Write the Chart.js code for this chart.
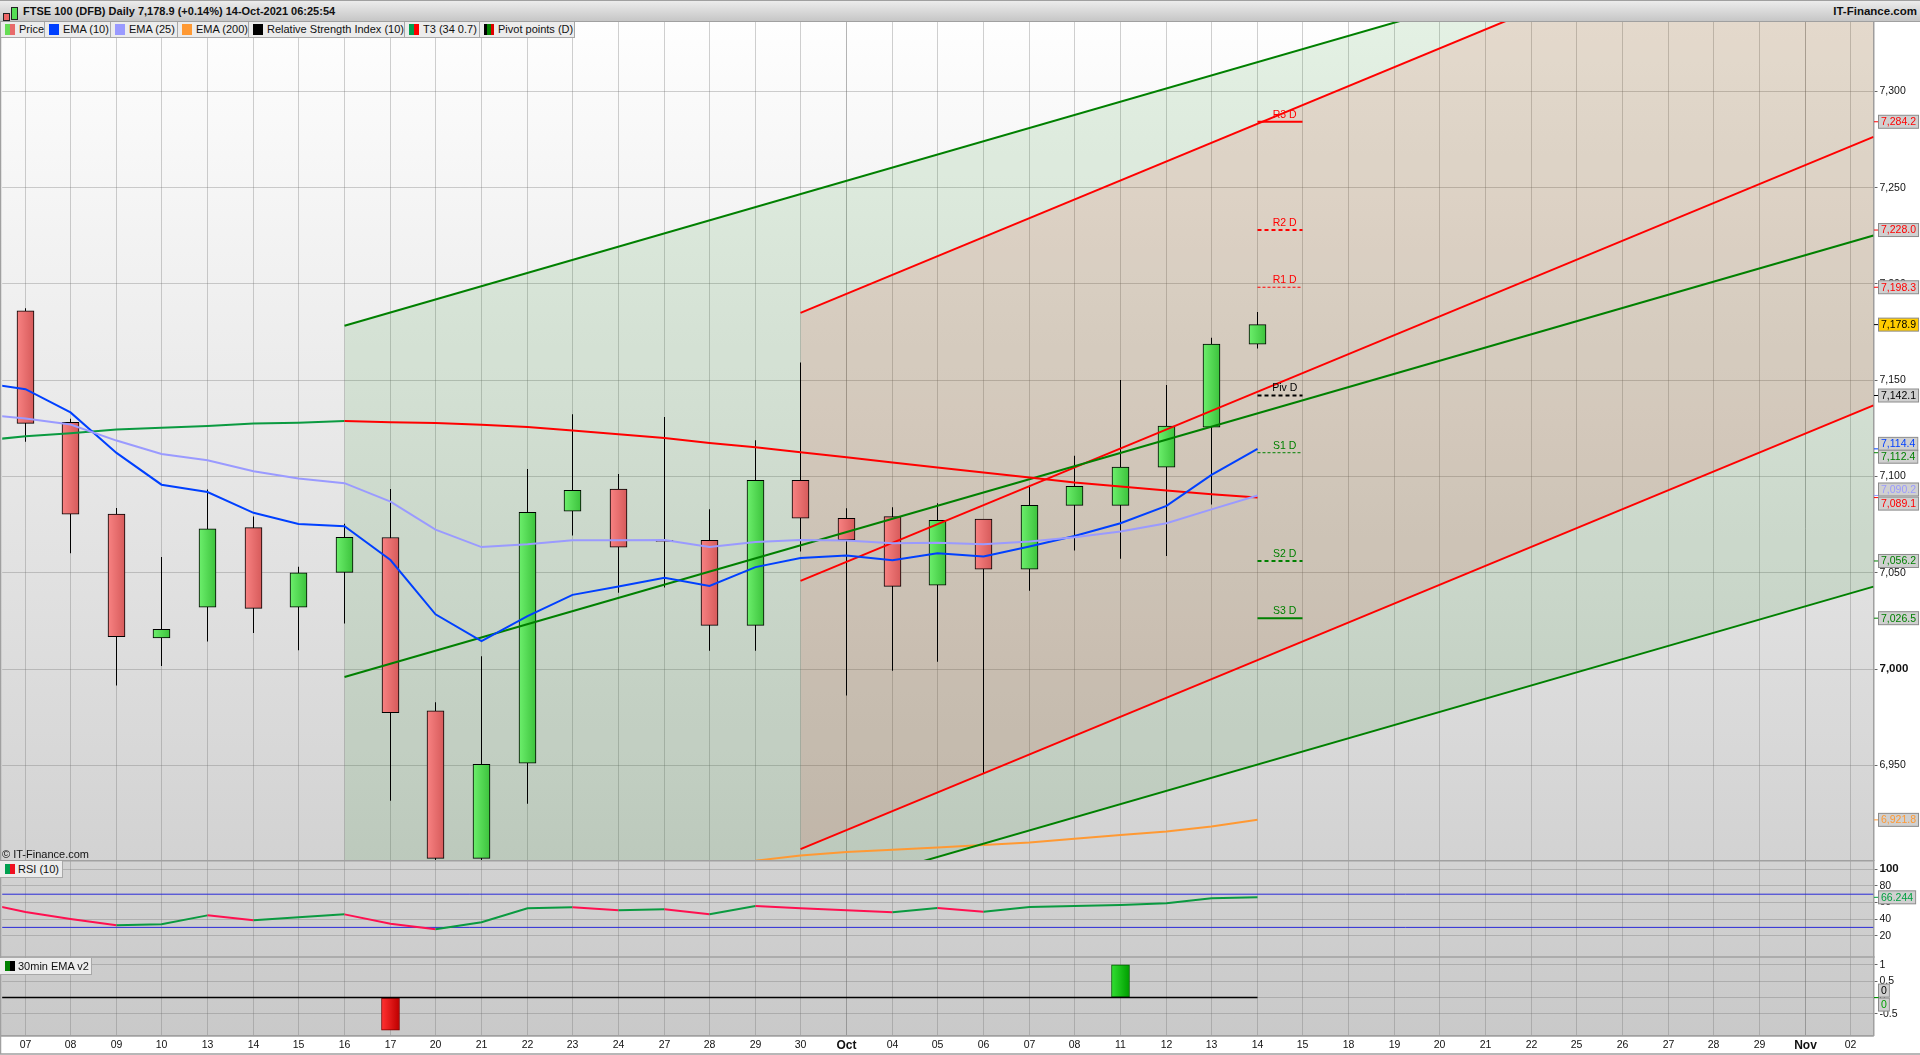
<!DOCTYPE html>
<html>
<head>
<meta charset="utf-8">
<title>FTSE 100 (DFB) Daily</title>
<script src="https://cdn.jsdelivr.net/npm/chart.js@4/dist/chart.umd.min.js"></script>
<style>
    html, body { margin: 0; padding: 0; background: #fff; }
    body { position: relative; width: 1920px; height: 1055px; overflow: hidden; font-family: "Liberation Sans", Arial, sans-serif; color: #111; }
    canvas { position: absolute; left: 0; top: 0; }
    .titlebar { position: absolute; left: 0; top: 0; width: 1920px; height: 20px; border-top: 1px solid #a0a0a0; border-bottom: 1px solid #a0a0a0; background: linear-gradient(#ececec, #c6c6c6); font-weight: bold; font-size: 11px; line-height: 20px; }
    .titlebar .name { position: absolute; left: 23px; }
    .titlebar .site { position: absolute; right: 3px; font-size: 11.5px; }
    .icon { position: absolute; border: 1px solid #222; }
    .tab { position: absolute; top: 22px; height: 15px; background: #ececec; border-right: 1px solid #a8a8a8; border-bottom: 1px solid #a8a8a8; font-size: 11px; line-height: 15px; white-space: nowrap; }
    .tab i { position: absolute; left: 4px; top: 2px; width: 10px; height: 11px; }
    .tab span { position: absolute; left: 18px; }
    .sub { position: absolute; left: 0; height: 16px; background: #ececec; border-right: 1px solid #a8a8a8; border-bottom: 1px solid #a8a8a8; font-size: 11px; line-height: 16px; white-space: nowrap; }
    .sub i { position: absolute; left: 5px; top: 3px; width: 10px; height: 10px; }
    .sub span { position: absolute; left: 18px; }
    .copy { position: absolute; left: 2px; top: 848px; font-size: 11px; line-height: 12px; }
</style>
</head>
<body>
<canvas id="chart" width="1920" height="1055"></canvas>

<div class="titlebar">
    <div class="icon" style="left:3px;top:12px;width:5px;height:6px;background:#e66"></div>
    <div class="icon" style="left:11px;top:6px;width:5px;height:11px;background:#5d5"></div>
    <div class="name">FTSE 100 (DFB) Daily 7,178.9 (+0.14%) 14-Oct-2021 06:25:54</div>
    <div class="site">IT-Finance.com</div>
</div>

<div id="tabs"></div>
<div class="sub" style="top:861px;width:62px"><i style="background:linear-gradient(90deg,#00a050 50%,#f01020 50%)"></i><span>RSI (10)</span></div>
<div class="sub" style="top:958px;width:91px"><i style="background:linear-gradient(90deg,#008000 50%,#000 50%)"></i><span>30min EMA v2</span></div>
<div class="copy">© IT-Finance.com</div>

<script>
'use strict';

const categories = ['07', '08', '09', '10', '13', '14', '15', '16', '17', '20', '21', '22', '23', '24', '27', '28', '29', '30', 'Oct', '04', '05', '06', '07', '08', '11', '12', '13', '14', '15', '18', '19', '20', '21', '22', '25', '26', '27', '28', '29', 'Nov', '02'];

const openValues = [7186.1, 7128.2, 7080.5, 7016.3, 7032.2, 7073.5, 7032.2, 7050.3, 7068.4, 6978.4, 6901.8, 6951.2, 7082.0, 7093.5, 7066.9, 7066.9, 7022.8, 7098.1, 7078.4, 7079.2, 7043.6, 7077.9, 7051.9, 7085.1, 7085.1, 7104.9, 7125.6, 7168.8];
const highValues = [7187.4, 7130.0, 7083.7, 7058.3, 7093.3, 7079.3, 7053.2, 7075.5, 7093.5, 6982.9, 7006.8, 7104.0, 7132.4, 7101.3, 7131.0, 7083.0, 7118.9, 7159.2, 7083.6, 7084.1, 7086.2, 7077.9, 7095.5, 7110.8, 7150.2, 7147.6, 7172.1, 7185.4];
const lowValues = [7118.1, 7060.2, 6991.5, 7001.7, 7014.4, 7018.8, 7009.9, 7023.7, 6931.7, 6900.9, 6900.9, 6930.2, 7069.4, 7039.7, 7042.4, 7009.6, 7009.6, 7061.1, 6986.3, 6999.2, 7003.9, 6945.9, 7040.8, 7061.6, 7057.4, 7058.8, 7085.5, 7166.5];
const closeValues = [7127.6, 7080.5, 7016.9, 7020.7, 7072.9, 7031.6, 7050.0, 7068.5, 6977.5, 6901.8, 6950.6, 7081.4, 7092.9, 7063.4, 7066.4, 7022.8, 7098.1, 7078.4, 7067.1, 7043.0, 7077.3, 7051.9, 7085.1, 7095.0, 7104.9, 7126.2, 7168.8, 7178.9];

// x position of each line point, -0.55 is the left frame of the plot
const lineX = [-0.55, 0, 1, 2, 3, 4, 5, 6, 7, 8, 9, 10, 11, 12, 13, 14, 15, 16, 17, 18, 19, 20, 21, 22, 23, 24, 25, 26, 27];
const ema10Values = [7147.3, 7145.4, 7133.3, 7112.3, 7095.8, 7092.0, 7081.2, 7075.4, 7074.2, 7056.7, 7028.5, 7014.6, 7027.6, 7038.6, 7043.0, 7047.5, 7043.2, 7053.0, 7057.7, 7059.1, 7056.6, 7060.2, 7058.5, 7063.7, 7069.2, 7075.8, 7084.8, 7100.9, 7114.4];
const ema25Values = [7131.4, 7130.2, 7127.0, 7118.7, 7111.7, 7108.5, 7102.8, 7099.0, 7096.6, 7087.0, 7072.5, 7063.4, 7064.9, 7066.9, 7066.9, 7067.1, 7063.4, 7066.0, 7067.1, 7066.8, 7065.4, 7065.7, 7064.9, 7066.3, 7068.5, 7071.5, 7075.8, 7083.0, 7090.2];
const t3Values = [7119.6, 7121.0, 7122.5, 7124.4, 7125.4, 7126.3, 7127.6, 7128.0, 7128.8, 7128.2, 7127.8, 7126.9, 7125.8, 7123.9, 7122.0, 7120.0, 7117.4, 7115.2, 7112.6, 7110.0, 7107.3, 7104.7, 7102.1, 7099.5, 7096.9, 7094.8, 7092.8, 7090.9, 7089.1];
const rsiValues = [55.0, 48.6, 40.1, 32.5, 33.7, 44.5, 38.5, 42.1, 45.7, 34.5, 27.7, 36.1, 53.0, 54.2, 50.6, 51.8, 45.8, 55.8, 53.0, 50.6, 48.2, 53.4, 48.9, 54.6, 55.8, 57.0, 59.0, 65.0, 66.244];

const ema200X = [16, 17, 18, 19, 20, 21, 22, 23, 24, 25, 26, 27];
const ema200Values = [6900.6, 6903.3, 6905.1, 6906.3, 6907.4, 6908.8, 6910.0, 6912.0, 6913.9, 6915.8, 6918.3, 6921.8];

// regression channels, start and end of each line
const greenChannelX = [7, 40.5];
const greenUpper = [7178.3, 7407.5];
const greenMiddle = [6996.0, 7225.2];
const greenLower = [6813.6, 7042.9];
// lower green line held on the panel floor, only used to bound the fill
const greenFloorX = [7, 19.7, 40.5];
const greenFloor = [6900.6, 6900.6, 7042.9];
const redChannelX = [17, 40.5];
const redUpper = [7185.0, 7415.5];
const redMiddle = [7045.9, 7276.4];
const redLower = [6906.6, 7137.0];

const pivotNames = ['R3 D', 'R2 D', 'R1 D', 'Piv D', 'S1 D', 'S2 D', 'S3 D'];
const pivotValues = [7284.2, 7228.0, 7198.3, 7142.1, 7112.4, 7056.2, 7026.5];
const pivotColors = ['#ff0000', '#ff0000', '#ff0000', '#000000', '#008000', '#008000', '#008000'];
const pivotWidths = [2, 2, 1, 2, 1, 2, 2];
const pivotDashes = [[], [4, 3], [3, 2], [4, 3], [3, 2], [4, 3], []];
const pivotX = [27, 28];

const rsiBands = [70, 30];
const frameX = [-0.55, 40.5];
const emaSignalX = [-0.55, 27];
const emaSignalZero = [0, 0];
const emaBars = [null, null, null, null, null, null, null, null, -1, null, null, null, null, null, null, null, null, null, null, null, null, null, null, null, 1, null, null, null];

const priceTags = [7284.2, 7228.0, 7198.3, 7178.9, 7142.1, 7114.4, 7112.4, 7090.2, 7089.1, 7056.2, 7026.5, 6921.8];
const priceTagColors = ['#ff0000', '#ff0000', '#ff0000', '#000000', '#000000', '#0040ff', '#008000', '#9a9aff', '#ff0000', '#008000', '#008000', '#ff9933'];
const priceTagShifts = [0, 0, 0, 0, 0, -5, 4, -6, 6, 0, 0, 0];

const tabNames = ['Price', 'EMA (10)', 'EMA (25)', 'EMA (200)', 'Relative Strength Index (10)', 'T3 (34 0.7)', 'Pivot points (D)'];
const tabEdges = [1, 45, 111, 178, 249, 405, 480, 575];
const tabSwatches = [
    'linear-gradient(90deg,#66dd55 50%,#e86a6a 50%)', '#0040ff', '#9a9aff', '#ff9933', '#000',
    'linear-gradient(90deg,#00a050 50%,#ff0000 50%)', 'linear-gradient(90deg,#000 33%,#008000 33%,#008000 66%,#e00000 66%)',
];

const FONT = '"Liberation Sans", Arial, sans-serif';
const GRID = 'rgba(110,110,110,0.32)';
const FRAME = '#a0a0a0';
const CANDLE_WIDTH = 17;

tabNames.forEach((name, i) => {
    const tab = document.createElement('div');
    tab.className = 'tab';
    tab.style.left = tabEdges[i] + 'px';
    tab.style.width = (tabEdges[i + 1] - tabEdges[i] - 1) + 'px';
    tab.innerHTML = `<i style="background:${tabSwatches[i]}"></i><span>${name}</span>`;
    document.getElementById('tabs').appendChild(tab);
});

function points(xs, ys) {
    return xs.map((x, i) => ({ x, y: ys[i] }));
}

function line(label, yAxisID, data, color, extra = {}) {
    return { type: 'line', label, yAxisID, data, borderColor: color, backgroundColor: color, borderWidth: 2, pointRadius: 0, tension: 0, fill: false, order: 2, ...extra };
}

function fillBand(label, data, target, color) {
    return line(label, 'price', data, 'rgba(0,0,0,0)', { borderWidth: 0, order: 10, fill: target === null ? false : { target }, backgroundColor: color });
}

function barGradient(ctx, light, dark) {
    const { chart, dataIndex } = ctx;
    const x = chart.scales.x.getPixelForValue(dataIndex);
    if (!Number.isFinite(x)) {
        return light;
    }
    const gradient = chart.ctx.createLinearGradient(x - CANDLE_WIDTH / 2, 0, x + CANDLE_WIDTH / 2, 0);
    gradient.addColorStop(0, light);
    gradient.addColorStop(1, dark);
    return gradient;
}

function riseFall(rise, fall) {
    return { borderColor: (ctx) => (ctx.p1.parsed.y >= ctx.p0.parsed.y ? rise : fall) };
}

const datasets = [
    // channel fills, red drawn on top of green
    fillBand('green top', points(greenChannelX, greenUpper), 1, 'rgba(0,128,0,0.1)'),
    fillBand('green floor', points(greenFloorX, greenFloor), null, 'transparent'),
    fillBand('red top', points(redChannelX, redUpper), 3, 'rgba(255,0,0,0.1)'),
    fillBand('red floor', points(redChannelX, redLower), null, 'transparent'),

    {
        type: 'bar', label: 'Wick', yAxisID: 'price', grouped: false, order: 5, barThickness: 1, inflateAmount: 0, backgroundColor: '#000', borderWidth: 0,
        data: highValues.map((high, i) => ({ x: i, y: [lowValues[i], high] })),
    },
    {
        type: 'bar', label: 'Price', yAxisID: 'price', grouped: false, order: 4, barThickness: CANDLE_WIDTH, borderColor: '#000', borderWidth: 1, borderSkipped: false,
        data: openValues.map((open, i) => ({ x: i, y: [open, closeValues[i]] })),
        backgroundColor: (ctx) => {
            const i = ctx.dataIndex;
            return closeValues[i] >= openValues[i] ? barGradient(ctx, '#6cef6c', '#3cc23c') : barGradient(ctx, '#f88282', '#d65a5a');
        },
    },

    line('T3 upper', 'price', points(greenChannelX, greenUpper), '#008000'),
    line('T3 middle', 'price', points(greenChannelX, greenMiddle), '#008000'),
    line('T3 lower', 'price', points(greenChannelX, greenLower), '#008000'),
    line('Red upper', 'price', points(redChannelX, redUpper), '#ff0000'),
    line('Red middle', 'price', points(redChannelX, redMiddle), '#ff0000'),
    line('Red lower', 'price', points(redChannelX, redLower), '#ff0000'),

    line('EMA (200)', 'price', points(ema200X, ema200Values), '#ff9933'),
    line('EMA (25)', 'price', points(lineX, ema25Values), '#9a9aff', { order: 1 }),
    line('EMA (10)', 'price', points(lineX, ema10Values), '#0040ff', { order: 1 }),
    line('T3 (34 0.7)', 'price', points(lineX, t3Values), '#ff0000', { order: 1, segment: riseFall('#0a9a40', '#ff0000') }),

    ...pivotNames.map((name, i) => line(name, 'price', points(pivotX, [pivotValues[i], pivotValues[i]]), pivotColors[i], {
        borderWidth: pivotWidths[i], borderDash: pivotDashes[i], order: 1,
    })),

    line('RSI', 'rsi', points(lineX, rsiValues), '#0a9a40', { segment: riseFall('#0a9a40', '#ff1050') }),
    ...rsiBands.map((level) => line('RSI band', 'rsi', points(frameX, [level, level]), '#2a2ad8', { borderWidth: 1 })),

    line('30min EMA v2 zero', 'ema', points(emaSignalX, emaSignalZero), '#000', { borderWidth: 1.5, order: 1 }),
    {
        type: 'bar', label: '30min EMA v2', yAxisID: 'ema', grouped: false, order: 3, barThickness: 18, borderWidth: 1, borderSkipped: false,
        data: emaBars.map((value, i) => ({ x: i, y: value })),
        borderColor: (ctx) => (emaBars[ctx.dataIndex] > 0 ? '#006000' : '#800000'),
        backgroundColor: (ctx) => (emaBars[ctx.dataIndex] > 0 ? barGradient(ctx, '#30dd30', '#00a000') : barGradient(ctx, '#ff3030', '#c00000')),
    },
];

const panelPlugin = {
    id: 'panelBackground',
    beforeDraw(chart) {
        const { ctx, chartArea: { right, top, bottom } } = chart;
        const gradient = ctx.createLinearGradient(0, top, 0, bottom);
        gradient.addColorStop(0, '#fefefe');
        gradient.addColorStop(1, '#c9c9c9');
        ctx.fillStyle = gradient;
        ctx.fillRect(0, top, right, bottom - top);
    },
    afterDraw(chart) {
        const { ctx, scales } = chart;
        ctx.save();
        // panel separators and outer frame
        ctx.strokeStyle = FRAME;
        ctx.lineWidth = 1.5;
        [scales.rsi.top, scales.ema.top, scales.ema.bottom].forEach((y) => {
            ctx.beginPath();
            ctx.moveTo(0, y);
            ctx.lineTo(scales.x.right, y);
            ctx.stroke();
        });
        ctx.beginPath();
        ctx.moveTo(0.5, 22);
        ctx.lineTo(0.5, 1054);
        ctx.moveTo(0, 1054);
        ctx.lineTo(1920, 1054);
        ctx.stroke();

        // pivot captions
        ctx.font = `10.5px ${FONT}`;
        ctx.textAlign = 'center';
        ctx.textBaseline = 'middle';
        pivotNames.forEach((name, i) => {
            ctx.fillStyle = pivotColors[i];
            ctx.fillText(name, scales.x.getPixelForValue(27.6), scales.price.getPixelForValue(pivotValues[i]) - 7);
        });

        // value tags on the right axis
        const drawTag = (text, y, shift, color, fill) => {
            ctx.font = `10.5px ${FONT}`;
            const width = ctx.measureText(text).width + 4;
            const cy = y + shift;
            ctx.strokeStyle = color;
            ctx.lineWidth = 1;
            ctx.beginPath();
            ctx.moveTo(1874, y);
            ctx.lineTo(1879, y);
            ctx.stroke();
            ctx.fillStyle = fill;
            ctx.fillRect(1879, cy - 6.5, width, 13);
            ctx.strokeStyle = '#8c8c8c';
            ctx.strokeRect(1878.5, cy - 6.5, width + 1, 13);
            ctx.fillStyle = color;
            ctx.textAlign = 'left';
            ctx.fillText(text, 1881, cy + 0.5);
        };
        priceTags.forEach((value, i) => {
            const text = value.toLocaleString('en-US', { minimumFractionDigits: 1, maximumFractionDigits: 1 });
            drawTag(text, scales.price.getPixelForValue(value), priceTagShifts[i], priceTagColors[i], value === 7178.9 ? '#ffcc00' : '#d0d0d0');
        });
        drawTag('66.244', scales.rsi.getPixelForValue(rsiValues[rsiValues.length - 1]), 0, '#00a040', '#d0d0d0');
        drawTag('0', scales.ema.getPixelForValue(0), -7, '#000000', '#d0d0d0');
        drawTag('0', scales.ema.getPixelForValue(0), 7, '#00a000', '#d0d0d0');
        ctx.restore();
    },
};

function yAxis(min, max, step, weight, stackWeight, boldValue, lowestTick, format) {
    return {
        type: 'linear',
        position: 'right',
        stack: 'panels',
        stackWeight,
        weight,
        min,
        max,
        afterBuildTicks(scale) { scale.ticks = scale.ticks.filter((tick) => tick.value >= lowestTick); },
        afterFit(scale) { scale.width = 46.5; },
        border: { color: FRAME, width: 1.5 },
        grid: { color: GRID, tickColor: '#666', tickLength: 4, lineWidth: 1 },
        ticks: {
            stepSize: step,
            includeBounds: false,
            autoSkip: false,
            padding: 2,
            color: '#111',
            callback: format,
            font: (ctx) => ({ family: FONT, size: ctx.tick && ctx.tick.value === boldValue ? 11.5 : 10.5, weight: ctx.tick && ctx.tick.value === boldValue ? 'bold' : 'normal' }),
        },
    };
}

new Chart(document.getElementById('chart'), {
    type: 'line',
    data: { datasets },
    plugins: [panelPlugin],
    options: {
        responsive: false,
        animation: false,
        events: [],
        layout: { autoPadding: false, padding: { left: 2.2, top: 22, right: 0, bottom: 0 } },
        plugins: { legend: { display: false }, tooltip: { enabled: false } },
        scales: {
            x: {
                type: 'linear',
                position: 'bottom',
                offset: false,
                min: -0.5,
                max: 40.5,
                // day positions land on pixel centres so wicks stay one pixel wide
                afterDataLimits(scale) {
                    const toPixel = scale.getPixelForValue;
                    scale.getPixelForValue = (value) => {
                        const pixel = toPixel.call(scale, value);
                        return Number.isInteger(value) ? Math.floor(pixel) + 0.5 : pixel;
                    };
                },
                afterBuildTicks(scale) { scale.ticks = categories.map((_, i) => ({ value: i })); },
                afterFit(scale) { scale.height = 19.3; },
                border: { color: FRAME, width: 1.5 },
                grid: {
                    offset: false,
                    drawTicks: false,
                    color: (ctx) => (ctx.tick && /[a-z]/.test(categories[ctx.tick.value] || '') ? 'rgba(90,90,90,0.45)' : GRID),
                },
                ticks: {
                    autoSkip: false,
                    maxRotation: 0,
                    padding: 3,
                    color: '#111',
                    callback: (value) => categories[value],
                    font: (ctx) => {
                        const major = ctx.tick && /[a-z]/.test(categories[ctx.tick.value] || '');
                        return { family: FONT, size: major ? 12 : 10.5, weight: major ? 'bold' : 'normal' };
                    },
                },
            },
            price: yAxis(6900.6, 7336, 50, 1, 838.7, 7000, 6950, (value) => value.toLocaleString('en-US')),
            rsi: yAxis(-5.7, 110.4, 20, 2, 96.3, 100, 20, (value) => value),
            ema: yAxis(-1.167, 1.243, 0.5, 3, 78.7, null, -0.5, (value) => value),
        },
    },
});
</script>
</body>
</html>
